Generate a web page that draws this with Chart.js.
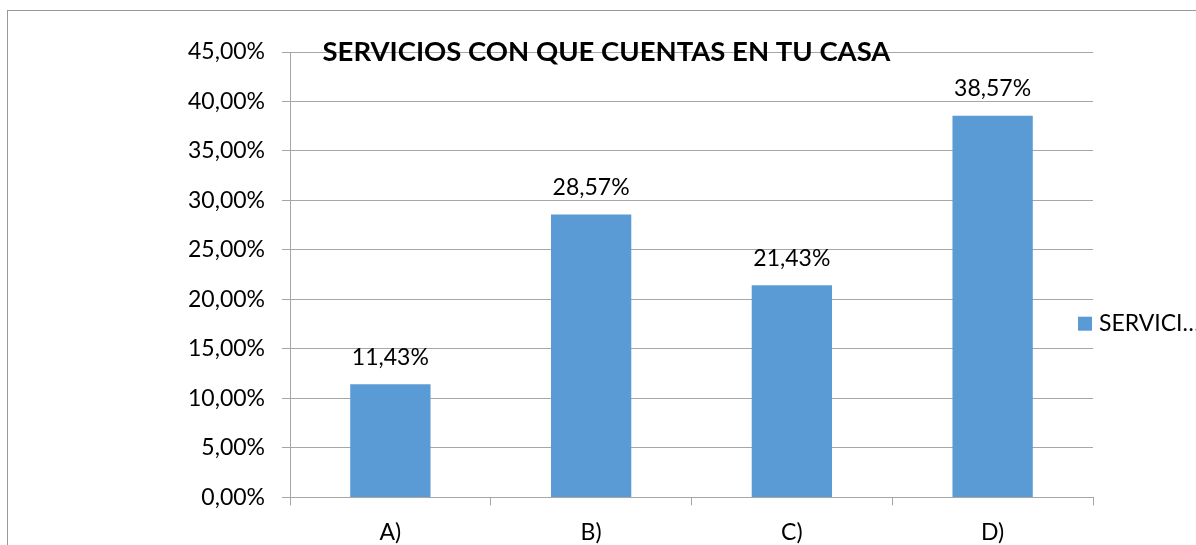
<!DOCTYPE html>
<html>
<head>
<meta charset="utf-8">
<script src="https://cdn.jsdelivr.net/npm/chart.js@4"></script>
<style>
  html, body { margin: 0; padding: 0; background: #fff; overflow: hidden; }
  #frame {
    position: absolute; left: 7px; top: 10px;
    width: 1197px; height: 560px;
    border-left: 1px solid #999; border-top: 1px solid #999;
  }
  #chart { display: block; }
</style>
</head>
<body>
<div id="frame"><canvas id="chart" width="1197" height="560"></canvas></div>
<script>
const categories = ['A)', 'B)', 'C)', 'D)'];
const percentages = [0.1143, 0.2857, 0.2143, 0.3857];
const seriesName = 'SERVICIOS CON QUE CUENTAS EN TU CASA';
const legendText = 'SERVICI…';
const barColor = '#5B9BD5';
const gridColor = '#A6A6A6';
const baseFont = 'Lato, "Open Sans", sans-serif';

const pct = v => (v * 100).toFixed(2).replace('.', ',') + '%';

// value labels above each bar
const barLabels = {
  id: 'barLabels',
  afterDatasetsDraw(chart) {
    const ctx = chart.ctx;
    const meta = chart.getDatasetMeta(0);
    ctx.save();
    ctx.font = '23px ' + baseFont;
    ctx.fillStyle = '#000';
    ctx.textAlign = 'center';
    ctx.textBaseline = 'middle';
    meta.data.forEach((bar, i) => {
      ctx.fillText(pct(chart.data.datasets[0].data[i]), bar.x, bar.y - 27);
    });
    ctx.restore();
  }
};

// legend sits over the right end of the plot, like the original
const sideLegend = {
  id: 'sideLegend',
  afterDraw(chart) {
    const ctx = chart.ctx;
    const area = chart.chartArea;
    const cy = (area.top + area.bottom) / 2 + 49;
    ctx.save();
    ctx.fillStyle = chart.data.datasets[0].backgroundColor;
    ctx.fillRect(area.right - 15, cy - 7, 14, 14);
    ctx.font = '23px ' + baseFont;
    ctx.fillStyle = '#000';
    ctx.textBaseline = 'middle';
    ctx.fillText(legendText, area.right + 6, cy);
    ctx.restore();
  }
};

new Chart(document.getElementById('chart'), {
  type: 'bar',
  data: {
    labels: categories,
    datasets: [{
      label: seriesName,
      data: percentages,
      backgroundColor: barColor,
      categoryPercentage: 1,
      barPercentage: 0.4
    }]
  },
  options: {
    responsive: false,
    animation: false,
    layout: { padding: { left: 0, right: 0, bottom: 12, top: 0 } },
    plugins: {
      legend: { display: false },
      tooltip: { enabled: false },
      title: {
        display: true,
        text: seriesName,
        color: '#000',
        font: { family: baseFont, size: 27.5, weight: 'bold' },
        padding: { top: 24.5, bottom: -16.5 }
      }
    },
    scales: {
      x: {
        offset: true,
        grid: { offset: true, drawOnChartArea: false, color: gridColor, tickLength: 8 },
        border: { color: gridColor },
        ticks: { color: '#000', padding: 13, font: { family: baseFont, size: 23 } }
      },
      y: {
        min: 0,
        max: 0.45,
        afterFit: s => { s.width = 282; },
        grid: { color: gridColor, tickLength: 8 },
        border: { color: gridColor },
        ticks: {
          stepSize: 0.05,
          color: '#000',
          padding: 17,
          font: { family: baseFont, size: 23 },
          callback: v => pct(v)
        }
      },
      // empty strip on the right where the legend text runs
      side: {
        position: 'right',
        display: true,
        grid: { display: false },
        border: { display: false },
        ticks: { display: false },
        afterFit: s => { s.width = 112; }
      }
    }
  },
  plugins: [barLabels, sideLegend]
});
</script>
</body>
</html>
